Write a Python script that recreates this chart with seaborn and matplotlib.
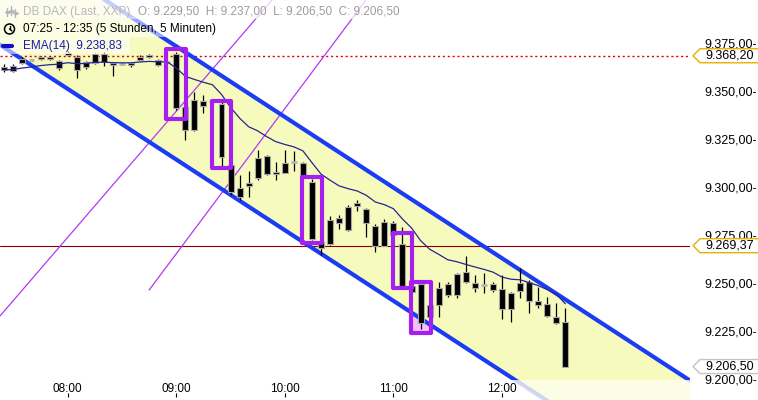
import numpy as np
import pandas as pd
import matplotlib
matplotlib.use("Agg")
import matplotlib.pyplot as plt
import seaborn as sns
from matplotlib.patches import Rectangle, Polygon, Ellipse
from matplotlib.lines import Line2D

# ---------------- data ----------------
start_time = "07:25"
end_time = "12:35"
bar_times = pd.date_range("2014-01-01 " + start_time, "2014-01-01 " + end_time, freq="5min")
t = (bar_times.hour + bar_times.minute / 60.0).to_numpy()

opens = [9362.3, 9360.4, 9364.3, 9366.0, 9366.4, 9367.7, 9361.8, 9368.6, 9367.7, 9362.5,
         9364.3, 9369.1, 9364.3, 9363.8, 9363.2, 9366.0, 9368.4, 9366.0, 9364.9, 9369.1,
         9341.7, 9329.6, 9342.1, 9344.7, 9343.1, 9311.3, 9294.5, 9300.4, 9304.4, 9316.2,
         9307.9, 9307.3, 9312.7, 9312.2, 9302.7, 9271.5, 9270.2, 9283.6, 9277.5, 9291.4,
         9288.3, 9279.8, 9269.4, 9281.0, 9270.2, 9245.3, 9249.3, 9232.1, 9238.5, 9249.3,
         9243.7, 9255.5, 9247.2, 9248.9, 9249.3, 9246.7, 9236.4, 9245.8, 9250.6, 9240.7,
         9238.9, 9232.4, 9229.5]
highs = [9363.9, 9363.9, 9367.6, 9366.5, 9368.2, 9368.2, 9366.2, 9370.5, 9368.6, 9365.5,
         9369.6, 9370.3, 9365.0, 9364.5, 9365.0, 9368.6, 9369.1, 9366.5, 9365.5, 9370.2,
         9343.1, 9349.3, 9347.8, 9345.5, 9344.1, 9311.9, 9306.2, 9308.4, 9319.2, 9316.6,
         9313.1, 9319.2, 9318.8, 9312.9, 9304.1, 9272.3, 9284.8, 9285.3, 9290.5, 9293.1,
         9289.0, 9280.7, 9283.1, 9282.4, 9279.2, 9248.9, 9249.9, 9239.0, 9250.6, 9250.6,
         9255.2, 9264.2, 9254.1, 9255.0, 9250.6, 9254.1, 9245.3, 9257.6, 9251.5, 9248.0,
         9242.8, 9239.4, 9237.0]
lows = [9359.8, 9359.8, 9363.9, 9365.5, 9366.0, 9366.0, 9361.0, 9368.0, 9356.8, 9361.3,
        9363.9, 9362.9, 9357.7, 9363.2, 9362.3, 9365.5, 9367.0, 9362.9, 9364.4, 9340.0,
        9324.4, 9329.0, 9338.4, 9344.0, 9310.3, 9295.7, 9293.1, 9294.9, 9303.6, 9306.2,
        9303.6, 9307.2, 9308.4, 9304.6, 9272.3, 9264.5, 9269.7, 9277.9, 9277.0, 9287.6,
        9274.0, 9266.2, 9269.2, 9274.4, 9247.9, 9244.8, 9225.9, 9231.7, 9232.1, 9242.5,
        9242.0, 9249.9, 9245.4, 9244.6, 9245.1, 9231.2, 9229.8, 9242.0, 9234.2, 9236.8,
        9232.4, 9228.5, 9206.5]
closes = [9360.8, 9363.0, 9366.5, 9366.0, 9367.7, 9366.5, 9365.3, 9369.8, 9360.8, 9364.8,
          9369.0, 9364.8, 9363.4, 9363.8, 9364.6, 9367.7, 9367.4, 9363.4, 9364.9, 9341.0,
          9329.6, 9345.2, 9344.8, 9344.7, 9315.5, 9297.5, 9299.2, 9302.2, 9315.2, 9306.5,
          9306.7, 9312.5, 9312.7, 9305.0, 9272.7, 9268.0, 9282.7, 9281.3, 9289.7, 9290.0,
          9281.0, 9269.4, 9281.8, 9274.9, 9248.4, 9248.4, 9229.3, 9238.5, 9247.5, 9243.7,
          9254.5, 9250.3, 9249.8, 9248.9, 9246.3, 9236.4, 9244.6, 9249.8, 9240.6, 9238.5,
          9232.9, 9229.0, 9206.5]

ema_span = 14
ema_label_value = 9238.83
level_prev_close = 9368.20
level_pivot = 9269.37

chan_times = [9.0, 12 + 35 / 60]
chan_upper = [9373.1, 9241.4]
chan_lower = [9314.2, 9182.5]

fork_a_times = [7.3765, 9.8817]
fork_a_prices = [9232.8, 9397.2]
fork_b_times = [8.7498, 10.7474]
fork_b_prices = [9246.3, 9397.2]

box_times = ["09:00", "09:25", "10:15", "11:05", "11:15"]
box_tops = [9371.9, 9344.8, 9305.2, 9276.0, 9250.6]
box_bottoms = [9335.4, 9309.9, 9270.8, 9247.4, 9224.0]

x_ticks = [8, 9, 10, 11, 12]
x_tick_labels = ["08:00", "09:00", "10:00", "11:00", "12:00"]
y_ticks = [9200, 9225, 9250, 9275, 9300, 9325, 9350, 9375]


def de(v):
    s = f"{v:,.2f}"
    return s.replace(",", "X").replace(".", ",").replace("X", ".")


def line_at(x, ts, ps):
    return ps[0] + (ps[1] - ps[0]) * (np.asarray(x) - ts[0]) / (ts[1] - ts[0])


# ---------------- style ----------------
sns.set_theme(style="white")
plt.rcParams['font.family'] = ['Liberation Sans', 'DejaVu Sans']

W, H = 758, 400
fig = plt.figure(figsize=(W / 100, H / 100), dpi=100)
ax = fig.add_axes([0, 20 / H, 690 / W, 380 / H])
ax.set_facecolor("white")
for s in ax.spines.values():
    s.set_visible(False)
ax.grid(False)

xmin, xmax = 7.3765, 13.7315
ymin, ymax = 9199.5, 9397.2
ax.set_xlim(xmin, xmax)
ax.set_ylim(ymin, ymax)

# channel fill
xs = np.linspace(7.0, 14.2, 300)
up = line_at(xs, chan_times, chan_upper)
lo = line_at(xs, chan_times, chan_lower)
yellow = "#f6fbbd"
ax.fill_between(xs, lo, up, color=yellow, lw=0, zorder=0.5)
strip = Rectangle((0, -20 / 380), 1, 20 / 380, transform=ax.transAxes)
faint = ax.fill_between(xs, lo, up, color=yellow, alpha=0.4, lw=0, zorder=0.5)
faint.set_clip_path(strip)

# boxes pink fill (visible only outside the channel)
hw = 5.5 / 60
box_t = [int(b[:2]) + int(b[3:]) / 60 for b in box_times]
for bt, top, bot in zip(box_t, box_tops, box_bottoms):
    ax.add_patch(Rectangle((bt - hw, bot), 2 * hw, top - bot, fc="#f3a6f3", ec="none", alpha=0.7, zorder=0.3))

# horizontal levels
ax.axhline(level_prev_close, color="#e00000", ls=(0, (1.5, 2)), lw=1, zorder=1.5)
ax.axhline(level_pivot, color="#8b0000", lw=0.8, zorder=1.5)

# purple lines
ax.plot(fork_a_times, fork_a_prices, color="#b536f5", lw=0.9, zorder=2)
ax.plot(fork_b_times, fork_b_prices, color="#b536f5", lw=0.9, zorder=2)

# channel lines
blue = "#1b3cf2"
ax.plot(xs, up, color=blue, lw=3, zorder=2.5)
ax.plot(xs, lo, color=blue, lw=3, zorder=2.5)
for yy in (up, lo):
    ln, = ax.plot(xs, yy, color=blue, lw=3, alpha=0.2, zorder=2.5)
    ln.set_clip_path(Rectangle((0, -20 / 380), 1, 20 / 380, transform=ax.transAxes))

# candles
o = np.array(opens); c = np.array(closes); hi = np.array(highs); lw_ = np.array(lows)
bw = 3.3 / 60
ax.vlines(t, lw_, hi, color="black", lw=0.9, zorder=3)
bb = np.minimum(o, c)
bh = np.abs(c - o)
doji = bh < 0.5
ax.bar(t[~doji], bh[~doji], bottom=bb[~doji], width=bw, color="black",
       edgecolor="#a8a8a8", linewidth=0.8, zorder=3.2)
ax.hlines(o[doji], t[doji] - bw / 2, t[doji] + bw / 2, color="#b4b4b4", lw=2, zorder=3.2)

# EMA
ema = pd.Series(closes).ewm(span=ema_span, adjust=False).mean().to_numpy()
sns.lineplot(x=t, y=ema, ax=ax, color="#25258f", lw=0.9, zorder=3.5)

# purple boxes
for bt, top, bot in zip(box_t, box_tops, box_bottoms):
    ax.add_patch(Rectangle((bt - hw, bot), 2 * hw, top - bot, fill=False, ec="#a51ff0",
                           lw=3, joinstyle="round", zorder=4))

# axes ticks
ax.yaxis.tick_right()
ax.set_yticks(y_ticks)
ax.set_yticklabels([de(v) + "-" for v in y_ticks])
ax.tick_params(axis="y", length=0, pad=10, labelsize=9, labelcolor="black")
ax.set_xticks(x_ticks)
ax.set_xticklabels(x_tick_labels)
ax.tick_params(axis="x", length=0, pad=2, labelsize=8.5, labelcolor="black")
sec = ax.secondary_xaxis(-13 / 380)
sec.set_xticks(x_ticks)
sec.set_xticklabels([])
sec.tick_params(length=3, width=0.8, direction="out", color="black")
for s in sec.spines.values():
    s.set_visible(False)

# price tags on the right
ytr = ax.get_yaxis_transform()
hh = 7 / 1.9217
x_tip, x_body, x_end = 693 / 690, 700 / 690, 762 / 690
for val, ec in [(level_prev_close, "#e8b000"), (level_pivot, "#e8b000"), (closes[-1], "#c4c4c4")]:
    poly = Polygon([(x_tip, val), (x_body, val + hh), (x_end, val + hh), (x_end, val - hh), (x_body, val - hh)],
                   closed=True, fc="white", ec=ec, lw=1, transform=ytr, clip_on=False, zorder=6)
    ax.add_patch(poly)
    ax.text(705 / 690, val, de(val), transform=ytr, ha="left", va="center", fontsize=9,
            color="black", zorder=7, clip_on=False)

# legend header (figure coordinates in pixels)
def fx(px):
    return px / W


def fy(py):
    return 1 - py / H


fig.add_artist(Rectangle((0, fy(19)), fx(420), 19 / H, transform=fig.transFigure, fc="white",
                         ec="none", alpha=0.75, zorder=1))
fig.add_artist(Rectangle((0, fy(37)), fx(225), 18 / H, transform=fig.transFigure, fc="white",
                         ec="none", alpha=0.55, zorder=1))
fig.add_artist(Rectangle((0, fy(54)), fx(130), 17 / H, transform=fig.transFigure, fc="white",
                         ec="none", alpha=0.55, zorder=1))

gray_icon = "#b4b4b4"
for px, y0, y1 in [(7, 8, 16), (11, 6, 15), (15, 9, 17)]:
    fig.add_artist(Line2D([fx(px), fx(px)], [fy(y0), fy(y1)], color=gray_icon, lw=1, transform=fig.transFigure, zorder=2))
    fig.add_artist(Line2D([fx(px - 1.5), fx(px + 1.5)], [fy((y0 + y1) / 2), fy((y0 + y1) / 2)], color=gray_icon, lw=2,
                          transform=fig.transFigure, zorder=2))
fig.text(fx(23), fy(12), "DB DAX (Last, XXP)", fontsize=8.5, color="#b8b8b8", va="center", ha="left", zorder=2)
fig.text(fx(138), fy(12),
         f"O: {de(opens[-1])}  H: {de(highs[-1])}  L: {de(lows[-1])}  C: {de(closes[-1])}",
         fontsize=8.5, color="#9c9c9c", va="center", ha="left", zorder=2)

fig.add_artist(Ellipse((fx(9.5), fy(29)), 10 / W, 10 / H, fill=False, ec="black", lw=1.1,
                       transform=fig.transFigure, zorder=2))
fig.add_artist(Line2D([fx(9.5), fx(9.5)], [fy(29), fy(25.5)], color="black", lw=1, transform=fig.transFigure, zorder=2))
fig.add_artist(Line2D([fx(9.5), fx(12)], [fy(29), fy(31)], color="black", lw=1, transform=fig.transFigure, zorder=2))
fig.text(fx(23), fy(29), f"{start_time} - {end_time} (5 Stunden, 5 Minuten)", fontsize=8.5, color="black",
         va="center", ha="left", zorder=2)

fig.add_artist(Line2D([fx(3), fx(12)], [fy(45.5), fy(45.5)], color="#1010c8", lw=3, transform=fig.transFigure, zorder=2))
fig.text(fx(23), fy(45.5), f"EMA({ema_span})  {de(ema_label_value)}", fontsize=8.5, color="#1c1caa",
         va="center", ha="left", zorder=2)

fig.savefig("out.png", dpi=100)
